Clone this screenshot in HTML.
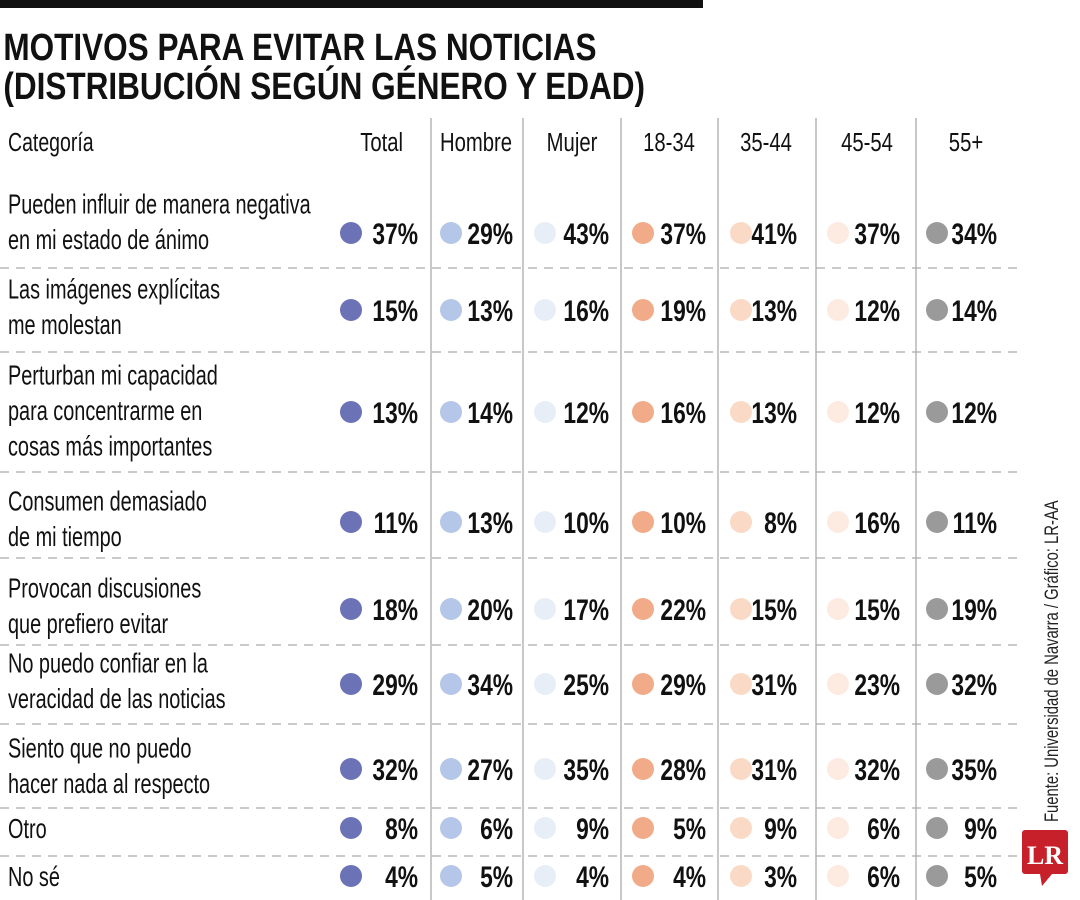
<!DOCTYPE html>
<html><head><meta charset="utf-8"><style>
html,body{margin:0;padding:0;background:#fff;width:1080px;height:900px;overflow:hidden}
svg{display:block}
text{font-family:"Liberation Sans Narrow","Liberation Sans",sans-serif}
</style></head><body>
<svg id="chart" width="1080" height="900" viewBox="0 0 1080 900">
<rect x="0" y="0" width="703" height="8" fill="#111"/>
<g font-weight="bold" font-size="38" fill="#111">
<text x="4" y="60" transform="scale(0.83,1)">MOTIVOS PARA EVITAR LAS NOTICIAS</text>
<text x="4" y="99" transform="scale(0.83,1)">(DISTRIBUCIÓN SEGÚN GÉNERO Y EDAD)</text>
</g>
<g id="grid"></g>
<g id="body"></g>
<text transform="translate(1058,822) rotate(-90) scale(0.78,1)" font-size="19" fill="#222">Fuente: Universidad de Navarra / Gráfico: LR-AA</text>
<g>
<rect x="1022" y="830" width="46" height="44" rx="3" fill="#c8202a"/>
<polygon points="1040,874 1052,874 1042,886" fill="#c8202a"/>
<text x="1045" y="864" text-anchor="middle" style="font-family:'Liberation Serif',serif" font-weight="bold" font-size="26" fill="#fff">LR</text>
</g>
</svg>
<script>
const columns=["Total","Hombre","Mujer","18-34","35-44","45-54","55+"];
const categories=[
 ["Pueden influir de manera negativa","en mi estado de ánimo"],
 ["Las imágenes explícitas","me molestan"],
 ["Perturban mi capacidad","para concentrarme en","cosas más importantes"],
 ["Consumen demasiado","de mi tiempo"],
 ["Provocan discusiones","que prefiero evitar"],
 ["No puedo confiar en la","veracidad de las noticias"],
 ["Siento que no puedo","hacer nada al respecto"],
 ["Otro"],
 ["No sé"]
];
const totalValues=[37,15,13,11,18,29,32,8,4];
const hombreValues=[29,13,14,13,20,34,27,6,5];
const mujerValues=[43,16,12,10,17,25,35,9,4];
const age1834Values=[37,19,16,10,22,29,28,5,4];
const age3544Values=[41,13,13,8,15,31,31,9,3];
const age4554Values=[37,12,12,16,15,23,32,6,6];
const age55Values=[34,14,12,11,19,32,35,9,5];
const series=[totalValues,hombreValues,mujerValues,age1834Values,age3544Values,age4554Values,age55Values];

const NS="http://www.w3.org/2000/svg";
const colors=["#6b72b5","#b4c7e8","#e8eef8","#f2ab89","#fbd9c7","#fdebe2","#9a9a9a"];
const dotX=[351,451,545,643,741,838,937];
const pctRight=[418,513,609,706,797,900,997];
const headX=[403,476,572,669,766,867,966];
const vLines=[431,523,621,718,816,916];
const rowY=[233,310,412,522,609,684,769,828,876];
const sepY=[268,352,472,558,645,724,808,856];
function el(t,a,p){const e=document.createElementNS(NS,t);for(const k in a)e.setAttribute(k,a[k]);p.appendChild(e);return e;}
const grid=document.getElementById('grid'),body=document.getElementById('body');
vLines.forEach(x=>{const l=el('line',{x1:x,x2:x,y1:118,y2:900,stroke:'#aaa','stroke-width':1.3},grid);

});
sepY.forEach(y=>{const l=el('line',{x1:0,x2:1020,y1:y,y2:y,stroke:'#aaa','stroke-width':1.3,'stroke-dasharray':'9 7'},grid);

});
function txt(s,x,y,size,anchor,weight,sx,parent){
 const t=el('text',{'font-size':size,fill:'#111','text-anchor':anchor,'font-weight':weight,transform:`translate(${x},${y}) scale(${sx},1)`},parent);
 t.textContent=s;return t;}
const hc=txt("Categoría",8,151,26,'start','normal',0.75,body);


columns.forEach((c,i)=>{const t=txt(c,headX[i],151,26,i==0?'end':'middle','normal',0.78,body);

});
categories.forEach((lines,r)=>{
 const n=lines.length,lh=35.5;
 let center=r==0?rowY[r]-12:(n==3?rowY[r]-2:rowY[r]-4);
 if(n==1) center=rowY[r];
 lines.forEach((s,k)=>{
  const yy=center-(n-1)*lh/2+k*lh+10;
  const t=txt(s,8,yy,28,'start','normal',0.71,body);
  
  
 });
 series.forEach((vals,c)=>{
  const d=el('circle',{cx:dotX[c],cy:rowY[r],r:11,fill:colors[c]},body);
  
  
  const t=txt(vals[r]+'%',pctRight[c],rowY[r]+11,30,'end','bold',0.76,body);
  
  
 });
});
</script>
</body></html>
